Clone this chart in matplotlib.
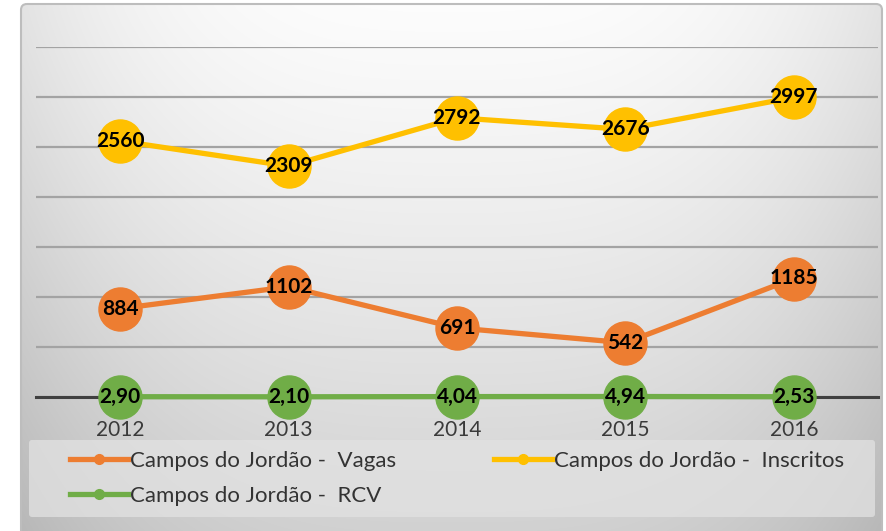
import matplotlib
matplotlib.use("Agg")
import matplotlib.pyplot as plt
import numpy as np
from matplotlib.patches import FancyBboxPatch
from matplotlib.lines import Line2D

plt.rcParams['font.family'] = ['Lato', 'DejaVu Sans']

anos = ['2012', '2013', '2014', '2015', '2016']
vagas = [884, 1102, 691, 542, 1185]
inscritos = [2560, 2309, 2792, 2676, 2997]
rcv = [2.90, 2.10, 4.04, 4.94, 2.53]

nome_vagas = 'Campos do Jordão -  Vagas'
nome_inscritos = 'Campos do Jordão -  Inscritos'
nome_rcv = 'Campos do Jordão -  RCV'

cor_vagas = '#ED7D31'
cor_inscritos = '#FFC000'
cor_rcv = '#70AD47'

W, H = 886, 531
fig = plt.figure(figsize=(W / 100, H / 100), dpi=100)

# background with gradient, rounded frame
bg = fig.add_axes([0, 0, 1, 1], zorder=-5)
bg.set_xlim(0, W)
bg.set_ylim(H, 0)
bg.axis('off')
yy, xx = np.mgrid[0:H, 0:W]
xf = (xx - 20) / (W - 24)
yf = yy / H
val = 0.99 - 0.17 * yf ** 1.2 - 0.10 * np.abs(2 * xf - 1) ** 3
img = np.dstack([val, val, val])
im = bg.imshow(img, extent=(0, W, H, 0), aspect='auto', interpolation='bilinear')
frame = FancyBboxPatch((21, 4), W - 25, H + 20, boxstyle='round,pad=0,rounding_size=6',
                       transform=bg.transData, facecolor='none', edgecolor='#bdbdbd', lw=1.5)
bg.add_patch(frame)
im.set_clip_path(frame)

# legend box
bg.add_patch(FancyBboxPatch((29, 440), 846, 77, boxstyle='round,pad=0,rounding_size=3',
                            transform=bg.transData, facecolor='#e2e2e2', edgecolor='none',
                            alpha=0.75))

ax = fig.add_axes([36 / W, (H - 397) / H, (878 - 36) / W, 350 / H])
ax.set_facecolor('none')
x = np.arange(len(anos))

ax.set_xlim(-0.5, len(anos) - 0.5)
ax.set_ylim(0, 3500)
ax.set_yticks(np.arange(0, 3501, 500))
ax.yaxis.grid(True, color='#a3a3a3', lw=1.6)
ax.set_axisbelow(True)
ax.tick_params(axis='y', left=False, labelleft=False)
ax.tick_params(axis='x', bottom=False, pad=13, labelsize=15, labelcolor='#3a3a3a')
ax.set_xticks(x)
ax.set_xticklabels(anos)
for s in ['top', 'right', 'left']:
    ax.spines[s].set_visible(False)
ax.spines['bottom'].set_color('#404040')
ax.spines['bottom'].set_linewidth(2.2)
ax.spines['bottom'].set_zorder(2)

ms = 31
lw = 3.8
ax.plot(x, vagas, color=cor_vagas, lw=lw, marker='o', ms=ms, mec=cor_vagas, zorder=3, clip_on=False)
ax.plot(x, inscritos, color=cor_inscritos, lw=lw, marker='o', ms=ms, mec=cor_inscritos, zorder=3, clip_on=False)
ax.plot(x, rcv, color=cor_rcv, lw=lw, marker='o', ms=ms, mec=cor_rcv, zorder=3, clip_on=False)

fs_lab = 15
for xi, v in zip(x, vagas):
    ax.text(xi, v, str(v), ha='center', va='center', fontsize=fs_lab, fontweight='bold', zorder=5)
for xi, v in zip(x, inscritos):
    ax.text(xi, v, str(v), ha='center', va='center', fontsize=fs_lab, fontweight='bold', zorder=5)
for xi, v in zip(x, rcv):
    ax.text(xi, v, f'{v:.2f}'.replace('.', ','), ha='center', va='center', fontsize=fs_lab,
            fontweight='bold', zorder=5)

handles = [
    Line2D([], [], color=cor_vagas, lw=lw, marker='o', ms=7),
    Line2D([], [], color=cor_rcv, lw=lw, marker='o', ms=7),
    Line2D([], [], color=cor_inscritos, lw=lw, marker='o', ms=7),
]
leg = fig.legend(handles, [nome_vagas, nome_rcv, nome_inscritos], ncol=2,
                 loc='upper left', bbox_to_anchor=(70 / W, 1 - 451 / H),
                 fontsize=16, handlelength=2.6, handletextpad=0.1, columnspacing=4.4,
                 labelspacing=0.68, borderpad=0, borderaxespad=0, frameon=False)
for t in leg.get_texts():
    t.set_color('#333333')

fig.savefig('out.png', dpi=100)
